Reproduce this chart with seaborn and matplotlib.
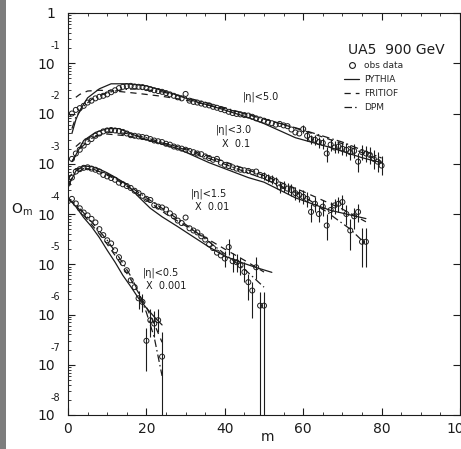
import matplotlib
matplotlib.use("Agg")
import matplotlib.pyplot as plt
import matplotlib.transforms as mtransforms
import pandas as pd
import seaborn as sns
from matplotlib.lines import Line2D
from matplotlib.patches import Rectangle
from matplotlib.ticker import NullFormatter

# observed multiplicity distributions (already scaled by the factor in the label)
m_wide = list(range(1, 81))             # |eta| < 5.0
obs_wide = [0.0100, 0.0118, 0.0128, 0.0142, 0.0165, 0.0180, 0.0200, 0.0215, 0.0225, 0.0240,
            0.0265, 0.0290, 0.0320, 0.0340, 0.0350, 0.0355, 0.0345, 0.0340, 0.0335, 0.0320,
            0.0305, 0.0290, 0.0280, 0.0270, 0.0255, 0.0240, 0.0225, 0.0210, 0.0200, 0.0245,
            0.0180, 0.0170, 0.0165, 0.0158, 0.0150, 0.0145, 0.0136, 0.0130, 0.0122, 0.0116,
            0.0108, 0.0102, 0.0098, 0.0096, 0.0093, 0.0091, 0.0086, 0.0080, 0.0076, 0.0072,
            0.0068, 0.0064, 0.0060, 0.0062, 0.0058, 0.0056, 0.0048, 0.0042, 0.0040, 0.0049,
            0.0036, 0.0031, 0.0030, 0.0027, 0.0026, 0.0016, 0.0024, 0.0021, 0.0022, 0.0020,
            0.0019, 0.0017, 0.0018, 0.0011, 0.0017, 0.0016, 0.0015, 0.00125, 0.0011, 0.00092]

m_mid = list(range(1, 77))              # |eta| < 3.0  x 0.1
obs_mid = [0.00125, 0.0016, 0.0019, 0.0023, 0.0027, 0.0031, 0.0036, 0.0040, 0.0044, 0.0046,
           0.0047, 0.0046, 0.0045, 0.0043, 0.0040, 0.0037, 0.0036, 0.0035, 0.0034, 0.0033,
           0.0031, 0.0029, 0.0028, 0.0027, 0.0025, 0.0024, 0.0022, 0.0021, 0.0020, 0.0019,
           0.0018, 0.0017, 0.0016, 0.00155, 0.0014, 0.0013, 0.0012, 0.00125, 0.00105, 0.00095,
           0.00090, 0.00085, 0.00080, 0.00076, 0.00074, 0.00072, 0.00068, 0.00070, 0.00060, 0.00057,
           0.00052, 0.00049, 0.00045, 0.00034, 0.00036, 0.00032, 0.00030, 0.00026, 0.00024, 0.00022,
           0.00020, 0.00011, 0.00016, 0.00010, 0.00014, 0.000059, 0.00012, 0.000148, 0.000160, 0.000173,
           0.00010, 0.000047, 0.00009, 0.00011, 0.000028, 0.000028]

m_narrow = list(range(0, 51))           # |eta| < 1.5  x 0.01
obs_narrow = [4.0e-4, 5.3e-4, 7.0e-4, 7.8e-4, 8.3e-4, 8.5e-4, 8.0e-4, 7.6e-4, 7.0e-4, 6.0e-4,
              5.6e-4, 5.2e-4, 4.8e-4, 4.2e-4, 3.9e-4, 3.6e-4, 3.3e-4, 2.9e-4, 2.6e-4, 2.3e-4,
              2.0e-4, 1.9e-4, 1.5e-4, 1.4e-4, 1.35e-4, 1.23e-4, 1.03e-4, 9.0e-5, 7.4e-5, 6.6e-5,
              8.5e-5, 5.2e-5, 4.7e-5, 4.3e-5, 3.6e-5, 3.1e-5, 2.5e-5, 2.1e-5, 1.7e-5, 1.5e-5,
              1.3e-5, 2.2e-5, 1.15e-5, 1.1e-5, 9.5e-6, 7.0e-6, 4.4e-6, 3.0e-6, 8.7e-6, 1.5e-6,
              1.5e-6]

m_central = list(range(0, 25))          # |eta| < 0.5  x 0.001
obs_central = [1.8e-4, 2.0e-4, 1.62e-4, 1.3e-4, 1.07e-4, 9.4e-5, 8.0e-5, 6.8e-5, 5.0e-5, 3.8e-5,
               3.0e-5, 2.6e-5, 1.9e-5, 1.38e-5, 1.05e-5, 7.6e-6, 4.8e-6, 3.5e-6, 2.1e-6, 1.78e-6,
               3.0e-7, 7.7e-7, 6.6e-7, 7.7e-7, 1.45e-7]

# error bars that stick out of the markers (m, low, high)
bar_wide_m = list(range(60, 81))
bar_wide_lo = [0.0040, 0.0029, 0.0025, 0.0024, 0.0021, 0.0020, 0.0011, 0.0018, 0.0016, 0.0016,
               0.0015, 0.0014, 0.0012, 0.0013, 0.0007, 0.0012, 0.0011, 0.0010, 0.0008, 0.0007, 0.0006]
bar_wide_hi = [0.0059, 0.0044, 0.0038, 0.0037, 0.0034, 0.0033, 0.0022, 0.0031, 0.0028, 0.0029,
               0.0027, 0.0026, 0.0024, 0.0025, 0.0016, 0.0024, 0.0023, 0.0022, 0.0019, 0.0017, 0.0014]

bar_mid_m = list(range(50, 77))
bar_mid_lo = [0.00048, 0.00043, 0.00040, 0.00036, 0.00026, 0.00028, 0.00025, 0.00023, 0.00019,
              0.00017, 0.00016, 0.00014, 0.00007, 0.00011, 0.00007, 0.00009, 0.000030, 0.00008,
              0.00010, 0.00011, 0.00012, 0.00006, 0.000019, 0.00005, 0.00007, 0.0000087, 0.0000087]
bar_mid_hi = [0.00068, 0.00062, 0.00059, 0.00055, 0.00044, 0.00046, 0.00041, 0.00039, 0.00034,
              0.00032, 0.00030, 0.00027, 0.00016, 0.00022, 0.00014, 0.00019, 0.00010, 0.00017,
              0.00020, 0.00022, 0.00024, 0.00015, 0.00008, 0.00013, 0.00016, 0.000053, 0.000053]

bar_narrow_m = [40, 41, 42, 43, 44, 45, 46, 47, 48, 49, 50]
bar_narrow_lo = [9e-6, 1.5e-5, 7e-6, 7e-6, 6e-6, 4.5e-6, 1.9e-6, 8.7e-7, 5e-6, 1e-9, 1e-9]
bar_narrow_hi = [1.8e-5, 3.2e-5, 1.7e-5, 1.6e-5, 1.4e-5, 1.1e-5, 6.5e-6, 4.5e-6, 1.4e-5, 2.8e-6, 2.8e-6]

bar_central_m = [18, 19, 20, 21, 22, 23, 24]
bar_central_lo = [1.3e-6, 1.1e-6, 7.5e-8, 3.5e-7, 3.5e-7, 4.5e-7, 1e-9]
bar_central_hi = [3.0e-6, 2.6e-6, 5.5e-7, 1.3e-6, 1.2e-6, 1.3e-6, 4.5e-7]

# model curves
pythia_wide_m = [1, 2, 3, 5, 8, 11, 15, 20, 26, 32, 39, 46, 50, 58, 67, 75, 80]
pythia_wide = [0.0040, 0.0075, 0.0115, 0.0205, 0.031, 0.039, 0.039, 0.0355, 0.0258, 0.0179,
               0.0124, 0.0083, 0.0063, 0.0033, 0.0021, 0.00132, 0.00105]
fritiof_wide_m = [2, 3, 5, 8, 12, 18, 24, 30, 40, 50, 60, 70, 80]
fritiof_wide = [0.021, 0.024, 0.028, 0.029, 0.028, 0.025, 0.022, 0.0185, 0.0125, 0.0078, 0.0046, 0.0025, 0.0011]
dpm_wide_m = [1, 2, 4, 6, 10, 14, 18, 24, 30, 40, 50, 60, 70, 80]
dpm_wide = [0.005, 0.0085, 0.014, 0.019, 0.026, 0.030, 0.031, 0.027, 0.021, 0.013, 0.0078, 0.0047, 0.0027, 0.0013]

pythia_mid_m = [1, 2, 4, 7, 10, 13, 19, 28, 36, 46, 50, 58, 67, 76]
pythia_mid = [0.0011, 0.0015, 0.0029, 0.0042, 0.0050, 0.0050, 0.0032, 0.0020, 0.00105, 0.00053,
              0.00043, 0.00021, 0.000118, 0.000081]
fritiof_mid_m = [2, 4, 7, 10, 15, 20, 25, 30, 40, 50, 60, 70, 76]
fritiof_mid = [0.0022, 0.0030, 0.0036, 0.0039, 0.0036, 0.0030, 0.0025, 0.0020, 0.0011, 0.00058,
               0.00028, 0.000125, 0.000070]
dpm_mid_m = [1, 3, 6, 10, 15, 20, 30, 40, 50, 60, 66, 72, 76]
dpm_mid = [0.0011, 0.0020, 0.0032, 0.0043, 0.0040, 0.0033, 0.0019, 0.00098, 0.00050, 0.00023,
           0.00011, 0.00005, 0.000025]

pythia_narrow_m = [0, 2, 4, 6, 8, 10, 12, 15, 18, 21, 24, 28, 32, 36, 40, 44, 48, 52]
pythia_narrow = [3.5e-4, 7.2e-4, 9.0e-4, 8.8e-4, 7.8e-4, 6.6e-4, 5.4e-4, 3.9e-4, 2.2e-4, 1.3e-4,
                 8.8e-5, 5.6e-5, 3.5e-5, 2.2e-5, 1.45e-5, 1.1e-5, 8.6e-6, 6.9e-6]
fritiof_narrow_m = [0, 2, 4, 8, 12, 16, 20, 25, 30, 35, 40, 45, 50]
fritiof_narrow = [5.0e-4, 8.0e-4, 8.2e-4, 7.0e-4, 5.0e-4, 3.2e-4, 1.9e-4, 1.0e-4, 5.8e-5, 3.4e-5,
                  2.0e-5, 1.2e-5, 7.0e-6]
dpm_narrow_m = [0, 2, 4, 6, 10, 15, 20, 25, 30, 35, 40, 45, 50]
dpm_narrow = [4.0e-4, 6.5e-4, 8.0e-4, 8.0e-4, 6.2e-4, 3.9e-4, 2.1e-4, 1.15e-4, 6.2e-5, 3.2e-5,
              1.6e-5, 8.0e-6, 3.5e-6]

model_central_m = [0, 2, 4, 6, 8, 10, 12, 14, 16, 18, 20, 22, 24]
pythia_central = [2.1e-4, 1.4e-4, 8.5e-5, 5.6e-5, 3.4e-5, 1.9e-5, 1.1e-5, 6.0e-6, 3.6e-6, 2.1e-6,
                  1.35e-6, 9.0e-7, 6.2e-7]
fritiof_central = [2.0e-4, 1.5e-4, 9.5e-5, 6.2e-5, 4.0e-5, 2.5e-5, 1.5e-5, 8.8e-6, 5.0e-6, 2.7e-6,
                   1.4e-6, 6.5e-7, 2.8e-7]
dpm_central = [1.9e-4, 1.6e-4, 1.05e-4, 7.0e-5, 4.6e-5, 3.0e-5, 1.8e-5, 1.05e-5, 5.8e-6, 2.8e-6,
               1.1e-6, 3.5e-7, 6.0e-8]

windows = ["|η|<5.0", "|η|<3.0", "|η|<1.5", "|η|<0.5"]

# long tables for seaborn
obs_df = pd.concat([
    pd.DataFrame({"m": m_wide, "O": obs_wide, "window": windows[0]}),
    pd.DataFrame({"m": m_mid, "O": obs_mid, "window": windows[1]}),
    pd.DataFrame({"m": m_narrow, "O": obs_narrow, "window": windows[2]}),
    pd.DataFrame({"m": m_central, "O": obs_central, "window": windows[3]}),
], ignore_index=True)

curve_parts = [
    (pythia_wide_m, pythia_wide, "PYTHIA", windows[0]),
    (fritiof_wide_m, fritiof_wide, "FRITIOF", windows[0]),
    (dpm_wide_m, dpm_wide, "DPM", windows[0]),
    (pythia_mid_m, pythia_mid, "PYTHIA", windows[1]),
    (fritiof_mid_m, fritiof_mid, "FRITIOF", windows[1]),
    (dpm_mid_m, dpm_mid, "DPM", windows[1]),
    (pythia_narrow_m, pythia_narrow, "PYTHIA", windows[2]),
    (fritiof_narrow_m, fritiof_narrow, "FRITIOF", windows[2]),
    (dpm_narrow_m, dpm_narrow, "DPM", windows[2]),
    (model_central_m, pythia_central, "PYTHIA", windows[3]),
    (model_central_m, fritiof_central, "FRITIOF", windows[3]),
    (model_central_m, dpm_central, "DPM", windows[3]),
]
curve_df = pd.concat([pd.DataFrame({"m": mm, "O": oo, "model": mod, "window": w})
                      for mm, oo, mod, w in curve_parts], ignore_index=True)
curve_df["run"] = curve_df["window"] + curve_df["model"]

sns.set_style("ticks")
plt.rcParams["font.family"] = ["DejaVu Sans"]
ink = "#1c1c1c"

fig = plt.figure(figsize=(4.61, 4.49), dpi=100)
ax = fig.add_axes([68 / 461, 34 / 449, 392 / 461, 402 / 449])
ax.set_yscale("log")


def ax_x(px):
    return (px - 68) / 392


def ax_y(py):
    return (415 - py) / 402


dash_map = {"PYTHIA": "", "FRITIOF": (5, 4), "DPM": (6, 2.5, 1.2, 2.5)}
sns.lineplot(data=curve_df, x="m", y="O", units="run", style="model", dashes=dash_map,
             estimator=None, sort=False, color=ink, linewidth=0.9, legend=False, ax=ax)

bars = [(bar_wide_m, bar_wide_lo, bar_wide_hi), (bar_mid_m, bar_mid_lo, bar_mid_hi),
        (bar_narrow_m, bar_narrow_lo, bar_narrow_hi), (bar_central_m, bar_central_lo, bar_central_hi)]
for bm, lo, hi in bars:
    ax.vlines(bm, lo, hi, color=ink, linewidth=0.8, zorder=2)

sns.scatterplot(data=obs_df, x="m", y="O", marker="o", s=13, facecolor="none",
                edgecolor=ink, linewidth=0.7, legend=False, ax=ax, zorder=3)

ax.set_xlim(0, 100)
ax.set_ylim(1e-8, 1)
ax.set_xlabel("")
ax.set_ylabel("")

ax.set_xticks([0, 20, 40, 60, 80, 100])
ax.set_xticks(list(range(0, 101, 5)), minor=True)
ax.set_yticks([10.0 ** k for k in range(-8, 1)])
ax.set_yticklabels(["10"] * 8 + ["1"])
ax.yaxis.set_minor_formatter(NullFormatter())
ax.tick_params(which="both", direction="in", top=True, right=True, colors=ink)
ax.tick_params(which="major", length=5, width=0.8, labelsize=10)
ax.tick_params(which="minor", length=2.5, width=0.6)
ax.tick_params(axis="y", which="major", pad=9)
ax.tick_params(axis="y", which="minor", right=False)
ax.tick_params(axis="x", which="major", pad=5)
for sp in ax.spines.values():
    sp.set_color(ink)
    sp.set_linewidth(0.8)

# exponents sitting above the "10" labels, old plotter style
blend = mtransforms.blended_transform_factory(ax.transAxes, ax.transData)
for k in range(-8, 0):
    ax.text(-0.02, 10.0 ** (k + 0.34), str(k), transform=blend, ha="right", va="center",
            fontsize=7, color=ink)

ax.text(ax_x(396), ax_y(50), "UA5  900 GeV", transform=ax.transAxes,
        ha="center", va="center", fontsize=10, color=ink)

handles = [
    Line2D([], [], marker="o", ls="none", mfc="none", mec=ink, ms=4.2, mew=0.8, label="obs data"),
    Line2D([], [], color=ink, lw=0.9, label="PYTHIA"),
    Line2D([], [], color=ink, lw=0.9, dashes=(5, 4), label="FRITIOF"),
    Line2D([], [], color=ink, lw=0.9, dashes=(6, 2.5, 1.2, 2.5), label="DPM"),
]
ax.legend(handles=handles, loc="upper left", bbox_to_anchor=(ax_x(344), ax_y(61)),
          frameon=False, fontsize=6.5, handlelength=1.7, handletextpad=0.5,
          labelspacing=0.55, borderpad=0, borderaxespad=0)

labels = [
    (261, 97, "|η|<5.0"), (234, 130, "|η|<3.0"), (236, 144, "X  0.1"),
    (209, 194, "|η|<1.5"), (212, 207, "X  0.01"), (161, 273, "|η|<0.5"), (166, 286, "X  0.001"),
]
for px, py, txt in labels:
    ax.text(ax_x(px), ax_y(py), txt, transform=ax.transAxes,
            ha="center", va="center", fontsize=7, color=ink)

ax.text(ax_x(267), ax_y(437), "m", transform=ax.transAxes,
        ha="center", va="center", fontsize=10, color=ink)
fig.text(22 / 461, 1 - 210 / 449, r"O$_\mathrm{m}$", ha="center", va="center", fontsize=10, color=ink)

fig.add_artist(Rectangle((0, 0), 5.5 / 461, 1, transform=fig.transFigure,
                         facecolor="#7d7d7d", edgecolor="none"))

fig.savefig("out.png", dpi=100)
